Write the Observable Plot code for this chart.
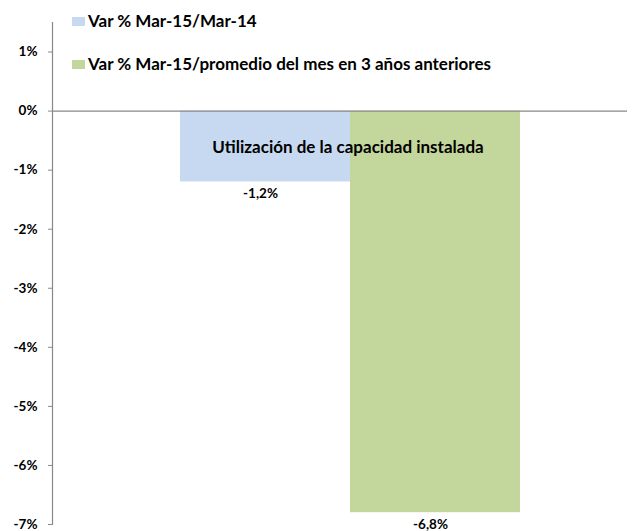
<!DOCTYPE html>
<html>
<head>
<meta charset="utf-8">
<script src="https://cdn.jsdelivr.net/npm/d3@7"></script>
<script src="https://cdn.jsdelivr.net/npm/@observablehq/plot@0.6"></script>
<style>
  html, body { margin: 0; padding: 0; background: #fff; }
  #wrap { position: relative; width: 636px; height: 531px; font-family: Lato, "Open Sans", sans-serif; }
  .leg { position: absolute; display: flex; align-items: center; font-weight: bold; font-size: 17px; color: #000; white-space: nowrap; line-height: 18px; }
  .sw { width: 13px; height: 9px; margin-right: 3px; }
</style>
</head>
<body>
<div id="wrap"></div>
<script>
const category = "Utilización de la capacidad instalada";
const series = ["Var % Mar-15/Mar-14", "Var % Mar-15/promedio del mes en 3 años anteriores"];
const values = [-1.2, -6.8];
const colors = ["#c6d9f1", "#c3d69b"];
const yTicks = [1, 0, -1, -2, -3, -4, -5, -6, -7];

const data = series.map((s, i) => ({series: s, value: values[i]}));
const fmt = v => v.toFixed(1).replace(".", ",") + "%";

const chart = Plot.plot({
  width: 636,
  height: 531,
  marginLeft: 52,
  marginRight: 9,
  marginTop: 22,
  marginBottom: 7,
  style: {fontFamily: "Lato, 'Open Sans', sans-serif", background: "#fff"},
  x: {type: "band", domain: series, range: [180, 520], padding: 0, axis: null},
  y: {domain: [-7, 1.5], axis: null},
  color: {domain: series, range: colors},
  marks: [
    Plot.barY(data, {x: "series", y: "value", fill: "series"}),
    Plot.ruleY([0], {stroke: "#888", strokeWidth: 1.2}),
    Plot.frame({anchor: "left", stroke: "#888", strokeWidth: 1.2}),
    Plot.axisY({ticks: yTicks, tickFormat: d => d + "%", tickSize: 4, tickPadding: 11, stroke: "#888",
      fill: "#000", fontWeight: "bold", fontSize: 13.5, label: null}),
    Plot.text([category], {frameAnchor: "top", dx: 8, dy: 118, fontWeight: "bold", fontSize: 17, fill: "#000"}),
    Plot.text(data, {x: "series", y: "value", text: d => fmt(d.value), dx: -5, dy: 12, fontWeight: "bold", fontSize: 13.5, fill: "#000"})
  ]
});

const wrap = document.getElementById("wrap");
wrap.appendChild(chart);
const legTops = [12, 55];
series.forEach((s, i) => {
  const d = document.createElement("div");
  d.className = "leg";
  d.style.left = "72px";
  d.style.top = legTops[i] + "px";
  d.innerHTML = `<span class="sw" style="background:${colors[i]}"></span><span>${s}</span>`;
  wrap.appendChild(d);
});
</script>
</body>
</html>
